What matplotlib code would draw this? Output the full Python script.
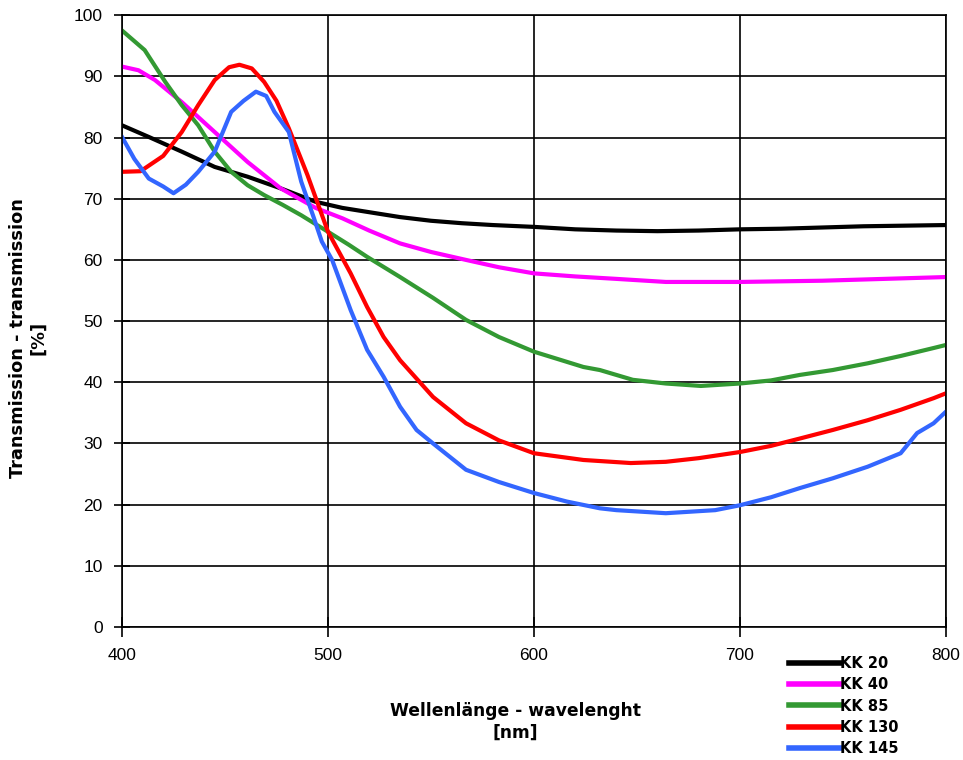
import matplotlib
matplotlib.use("Agg")
import matplotlib.pyplot as plt

# wavelength [nm] / transmission [%]
kk20_x = [400, 413, 429, 445, 461, 477, 494, 507, 520, 535, 550, 565, 580, 600, 620, 640, 660, 680, 700, 720, 740, 760, 780, 800]
kk20_y = [82.0, 80.1, 77.7, 75.2, 73.6, 71.7, 69.5, 68.5, 67.8, 67.0, 66.4, 66.0, 65.7, 65.4, 65.0, 64.8, 64.7, 64.8, 65.0, 65.1, 65.3, 65.5, 65.6, 65.7]

kk40_x = [400, 408, 416, 429, 445, 461, 477, 494, 507, 520, 535, 550, 567, 583, 600, 620, 640, 664, 680, 700, 720, 740, 760, 780, 800]
kk40_y = [91.6, 91.0, 89.4, 85.8, 80.9, 76.0, 71.7, 68.5, 66.8, 64.8, 62.7, 61.3, 60.0, 58.8, 57.8, 57.3, 56.9, 56.4, 56.4, 56.4, 56.5, 56.6, 56.8, 57.0, 57.2]

kk85_x = [400, 411, 421, 429, 437, 445, 453, 461, 469, 478, 487, 500, 510, 519, 535, 551, 567, 583, 600, 624, 632, 648, 664, 681, 700, 715, 729, 745, 762, 778, 794, 800]
kk85_y = [97.5, 94.3, 89.1, 85.3, 82.0, 77.7, 74.4, 72.2, 70.6, 69.0, 67.3, 64.6, 62.5, 60.5, 57.2, 53.8, 50.2, 47.4, 45.0, 42.5, 42.0, 40.4, 39.8, 39.4, 39.8, 40.3, 41.2, 42.0, 43.1, 44.3, 45.6, 46.1]

kk130_x = [400, 409, 420, 429, 437, 445, 452, 457, 463, 469, 475, 481, 490, 500, 511, 519, 527, 535, 551, 567, 583, 600, 624, 647, 664, 680, 700, 715, 729, 745, 762, 778, 794, 800]
kk130_y = [74.4, 74.5, 77.0, 80.9, 85.3, 89.4, 91.5, 91.9, 91.3, 89.1, 86.0, 81.5, 73.9, 64.6, 57.8, 52.3, 47.4, 43.6, 37.6, 33.3, 30.5, 28.4, 27.3, 26.8, 27.0, 27.6, 28.6, 29.6, 30.8, 32.2, 33.8, 35.5, 37.4, 38.2]

kk145_x = [400, 406, 413, 420, 425, 431, 437, 445, 453, 459, 465, 470, 474, 481, 487, 493, 497, 502, 511, 519, 527, 535, 543, 551, 567, 583, 600, 616, 632, 640, 664, 688, 700, 715, 729, 745, 762, 778, 786, 794, 800]
kk145_y = [80.1, 76.5, 73.3, 72.0, 70.9, 72.3, 74.4, 77.7, 84.2, 86.0, 87.5, 86.8, 84.2, 80.9, 72.8, 67.0, 63.0, 60.0, 51.8, 45.3, 40.9, 36.0, 32.2, 30.0, 25.7, 23.7, 21.9, 20.5, 19.4, 19.1, 18.6, 19.1, 19.9, 21.2, 22.7, 24.3, 26.2, 28.4, 31.7, 33.3, 35.2]

series = [("KK 20", kk20_x, kk20_y, "#000000"),
          ("KK 40", kk40_x, kk40_y, "#ff00ff"),
          ("KK 85", kk85_x, kk85_y, "#339933"),
          ("KK 130", kk130_x, kk130_y, "#ff0000"),
          ("KK 145", kk145_x, kk145_y, "#3366ff")]

plt.rcParams['font.family'] = ['Liberation Sans', 'DejaVu Sans']
lab = dict(family='DejaVu Sans', fontweight='bold', ha='center', va='center')

fig = plt.figure(figsize=(9.63, 7.6), dpi=100)
ax = fig.add_axes([0.1267, 0.175, 0.8556, 0.805])

lines = []
for name, xs, ys, col in series:
    l, = ax.plot(xs, ys, color=col, linewidth=3.0, label=name)
    lines.append(l)

ax.set_xlim(400, 800)
ax.set_ylim(0, 100)
ax.set_xticks(range(400, 801, 100))
ax.set_yticks(range(0, 101, 10))
ax.grid(True, color='black', linewidth=1.2)
ax.set_axisbelow(True)
for s in ax.spines.values():
    s.set_color('black')
    s.set_linewidth(1.2)
ax.tick_params(axis='y', direction='inout', length=12, width=1.2, labelsize=12.5, pad=8)
ax.tick_params(axis='x', direction='inout', length=14, width=1.2, labelsize=12.5, pad=8)

fig.text(515/963, 1 - 711/760, "Wellenlänge - wavelenght", fontsize=12.3, **lab)
fig.text(515/963, 1 - 733/760, "[nm]", fontsize=12.3, **lab)
fig.text(18/963, 1 - 338/760, "Transmission - transmission", rotation=90, fontsize=12.8, **lab)
fig.text(38/963, 1 - 338/760, "[%]", rotation=90, fontsize=12.8, **lab)

leg = fig.legend(handles=lines, loc='upper left', bbox_to_anchor=(782/963, 1 - 649/760),
                 frameon=False, handlelength=3.5, handletextpad=0.0, labelspacing=0.42,
                 borderpad=0, prop={'family': 'DejaVu Sans', 'weight': 'bold', 'size': 10.5})
for h in leg.legend_handles:
    h.set_linewidth(4)

fig.savefig("out.png", dpi=100)
